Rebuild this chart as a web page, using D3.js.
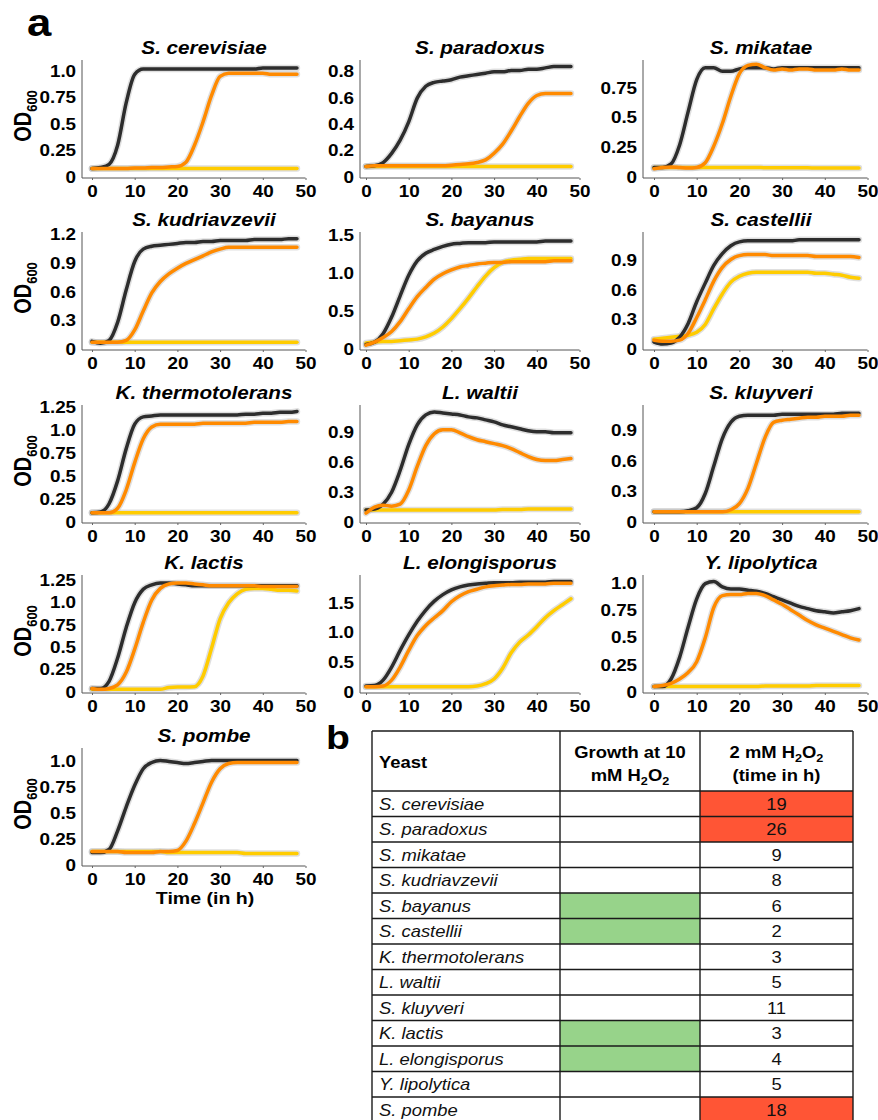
<!DOCTYPE html>
<html>
<head>
<meta charset="utf-8">
<script src="https://cdn.jsdelivr.net/npm/d3@7"></script>
<style>
html, body { margin: 0; padding: 0; background: #fff; }
svg { display: block; }
</style>
</head>
<body>
<svg id="fig" width="878" height="1120"></svg>
<script>
"use strict";

// ---- data ----
const hours = [0, 2, 4, 6, 8, 10, 12, 14, 16, 18, 20, 22, 24, 26, 28, 30, 32, 34, 36, 38, 40, 42, 44, 46, 48];

const species = ["S. cerevisiae", "S. paradoxus", "S. mikatae", "S. kudriavzevii", "S. bayanus", "S. castellii",
    "K. thermotolerans", "L. waltii", "S. kluyveri", "K. lactis", "L. elongisporus", "Y. lipolytica", "S. pombe"];

// upper end of each y axis
const yTop = [1.105, 0.89, 0.985, 1.23, 1.54, 1.19, 1.28, 1.18, 1.15, 1.31, 1.97, 1.08, 1.13];

const yTickLabels = [
    ["0", "0.25", "0.5", "0.75", "1.0"],
    ["0", "0.2", "0.4", "0.6", "0.8"],
    ["0", "0.25", "0.5", "0.75"],
    ["0", "0.3", "0.6", "0.9", "1.2"],
    ["0", "0.5", "1.0", "1.5"],
    ["0", "0.3", "0.6", "0.9"],
    ["0", "0.25", "0.5", "0.75", "1.0", "1.25"],
    ["0", "0.3", "0.6", "0.9"],
    ["0", "0.3", "0.6", "0.9"],
    ["0", "0.25", "0.5", "0.75", "1.0", "1.25"],
    ["0", "0.5", "1.0", "1.5"],
    ["0", "0.25", "0.5", "0.75", "1.0"],
    ["0", "0.25", "0.5", "0.75", "1.0"]
];
const xTickLabels = ["0", "10", "20", "30", "40", "50"];

// OD600, no H2O2 (black)
const odControl = [
    [0.08, 0.09, 0.12, 0.3, 0.7, 0.97, 1.02, 1.02, 1.02, 1.02, 1.02, 1.02, 1.02, 1.02, 1.02, 1.02, 1.02, 1.02, 1.02, 1.02, 1.03, 1.03, 1.03, 1.03, 1.03],
    [0.08, 0.085, 0.11, 0.18, 0.28, 0.42, 0.6, 0.69, 0.72, 0.73, 0.74, 0.76, 0.77, 0.78, 0.79, 0.8, 0.8, 0.81, 0.81, 0.82, 0.82, 0.83, 0.84, 0.84, 0.84],
    [0.08, 0.08, 0.11, 0.27, 0.55, 0.82, 0.92, 0.92, 0.89, 0.89, 0.91, 0.92, 0.92, 0.92, 0.91, 0.92, 0.92, 0.92, 0.92, 0.92, 0.92, 0.92, 0.92, 0.92, 0.92],
    [0.08, 0.06, 0.09, 0.28, 0.62, 0.92, 1.05, 1.08, 1.09, 1.1, 1.11, 1.12, 1.12, 1.13, 1.13, 1.14, 1.14, 1.14, 1.14, 1.15, 1.15, 1.15, 1.15, 1.16, 1.16],
    [0.06, 0.09, 0.2, 0.42, 0.7, 0.97, 1.16, 1.26, 1.31, 1.35, 1.38, 1.39, 1.4, 1.4, 1.4, 1.41, 1.41, 1.41, 1.41, 1.41, 1.41, 1.42, 1.42, 1.42, 1.42],
    [0.07, 0.05, 0.06, 0.12, 0.26, 0.48, 0.67, 0.85, 0.97, 1.05, 1.09, 1.1, 1.1, 1.1, 1.1, 1.1, 1.1, 1.11, 1.11, 1.11, 1.11, 1.11, 1.11, 1.11, 1.11],
    [0.1, 0.11, 0.2, 0.45, 0.8, 1.07, 1.15, 1.16, 1.17, 1.17, 1.17, 1.17, 1.17, 1.17, 1.17, 1.17, 1.17, 1.17, 1.18, 1.18, 1.19, 1.19, 1.2, 1.2, 1.21],
    [0.12, 0.13, 0.18, 0.3, 0.52, 0.78, 0.98, 1.08, 1.11, 1.1, 1.09, 1.08, 1.06, 1.05, 1.03, 1.01, 0.98, 0.96, 0.94, 0.92, 0.91, 0.91, 0.9, 0.9, 0.9],
    [0.1, 0.1, 0.1, 0.1, 0.11, 0.14, 0.28, 0.55, 0.82, 0.98, 1.04, 1.05, 1.05, 1.05, 1.05, 1.06, 1.06, 1.06, 1.06, 1.06, 1.06, 1.06, 1.07, 1.07, 1.07],
    [0.04, 0.04, 0.12, 0.38, 0.72, 1.0, 1.15, 1.2, 1.22, 1.22, 1.21, 1.2, 1.19, 1.19, 1.19, 1.19, 1.19, 1.19, 1.19, 1.19, 1.19, 1.19, 1.19, 1.19, 1.19],
    [0.1, 0.11, 0.2, 0.42, 0.7, 0.96, 1.19, 1.38, 1.53, 1.64, 1.72, 1.77, 1.8, 1.82, 1.83, 1.84, 1.84, 1.84, 1.85, 1.85, 1.85, 1.85, 1.86, 1.86, 1.86],
    [0.05, 0.05, 0.12, 0.32, 0.6, 0.86, 1.0, 1.02, 0.97, 0.95, 0.95, 0.94, 0.93, 0.91, 0.88, 0.85, 0.82, 0.79, 0.77, 0.75, 0.74, 0.73, 0.74, 0.75, 0.77],
    [0.12, 0.12, 0.15, 0.33, 0.56, 0.77, 0.93, 0.99, 1.01, 1.0, 0.99, 0.98, 0.99, 1.0, 1.01, 1.01, 1.01, 1.01, 1.01, 1.01, 1.01, 1.01, 1.01, 1.01, 1.01]
];

// OD600, 2 mM H2O2 (orange)
const od2mM = [
    [0.08, 0.08, 0.08, 0.08, 0.08, 0.085, 0.085, 0.09, 0.09, 0.095, 0.1, 0.14, 0.3, 0.52, 0.77, 0.95, 0.98, 0.98, 0.98, 0.98, 0.98, 0.97, 0.97, 0.97, 0.97],
    [0.08, 0.085, 0.085, 0.085, 0.085, 0.085, 0.085, 0.085, 0.085, 0.085, 0.09, 0.095, 0.1, 0.11, 0.13, 0.18, 0.25, 0.35, 0.46, 0.56, 0.62, 0.635, 0.635, 0.635, 0.635],
    [0.07, 0.08, 0.085, 0.08, 0.075, 0.08, 0.12, 0.26, 0.45, 0.68, 0.87, 0.94, 0.95, 0.92, 0.9, 0.91, 0.9, 0.91, 0.91, 0.9, 0.9, 0.9, 0.91, 0.9, 0.9],
    [0.07, 0.07, 0.07, 0.07, 0.09, 0.2, 0.4, 0.59, 0.71, 0.79, 0.85, 0.9, 0.94, 0.98, 1.02, 1.05, 1.07, 1.07, 1.07, 1.07, 1.07, 1.07, 1.07, 1.07, 1.07],
    [0.05, 0.09, 0.15, 0.23, 0.36, 0.53, 0.69, 0.81, 0.92, 0.99, 1.04, 1.08, 1.1, 1.12, 1.13, 1.14, 1.14, 1.15, 1.15, 1.15, 1.15, 1.15, 1.16, 1.16, 1.16],
    [0.09, 0.08, 0.08, 0.09, 0.16, 0.32, 0.5, 0.69, 0.83, 0.91, 0.95, 0.96, 0.96, 0.96, 0.95, 0.95, 0.95, 0.95, 0.95, 0.94, 0.94, 0.94, 0.94, 0.94, 0.93],
    [0.1, 0.1, 0.1, 0.15, 0.35, 0.65, 0.91, 1.04, 1.07, 1.07, 1.07, 1.07, 1.07, 1.08, 1.08, 1.08, 1.08, 1.08, 1.08, 1.09, 1.09, 1.09, 1.09, 1.1, 1.1],
    [0.09, 0.15, 0.17, 0.16, 0.18, 0.32, 0.56, 0.77, 0.89, 0.93, 0.93, 0.9, 0.86, 0.83, 0.81, 0.79, 0.77, 0.74, 0.7, 0.66, 0.63, 0.62, 0.62, 0.63, 0.64],
    [0.1, 0.1, 0.1, 0.1, 0.1, 0.1, 0.1, 0.1, 0.1, 0.12, 0.18, 0.33, 0.58, 0.83, 0.98, 1.0, 1.01, 1.02, 1.03, 1.03, 1.04, 1.04, 1.04, 1.05, 1.05],
    [0.04, 0.03, 0.04, 0.08, 0.22, 0.48, 0.78, 1.03, 1.16, 1.21, 1.22, 1.22, 1.21, 1.2, 1.19, 1.19, 1.19, 1.19, 1.19, 1.19, 1.18, 1.18, 1.18, 1.18, 1.18],
    [0.09, 0.09, 0.1, 0.2, 0.42, 0.7, 0.95, 1.12, 1.25, 1.37, 1.52, 1.62, 1.69, 1.73, 1.77, 1.79, 1.8, 1.81, 1.81, 1.82, 1.82, 1.82, 1.83, 1.83, 1.83],
    [0.05, 0.06, 0.08, 0.12, 0.18, 0.28, 0.5, 0.78, 0.89, 0.9, 0.9, 0.91, 0.91, 0.89, 0.85, 0.81, 0.76, 0.71, 0.66, 0.62, 0.59, 0.56, 0.53, 0.5, 0.48],
    [0.13, 0.13, 0.13, 0.13, 0.12, 0.12, 0.12, 0.12, 0.13, 0.13, 0.14, 0.23, 0.4, 0.6, 0.8, 0.93, 0.98, 0.99, 0.99, 0.99, 0.99, 0.99, 0.99, 0.99, 0.99]
];

// OD600, 10 mM H2O2 (yellow)
const od10mM = [
    [0.08, 0.08, 0.08, 0.08, 0.08, 0.08, 0.08, 0.08, 0.08, 0.08, 0.08, 0.08, 0.08, 0.08, 0.08, 0.08, 0.08, 0.08, 0.08, 0.08, 0.08, 0.08, 0.08, 0.08, 0.08],
    [0.08, 0.08, 0.08, 0.08, 0.08, 0.08, 0.08, 0.08, 0.08, 0.08, 0.08, 0.08, 0.08, 0.08, 0.08, 0.08, 0.08, 0.08, 0.08, 0.08, 0.08, 0.08, 0.08, 0.08, 0.08],
    [0.08, 0.08, 0.08, 0.08, 0.08, 0.08, 0.08, 0.08, 0.08, 0.08, 0.08, 0.08, 0.08, 0.078, 0.078, 0.078, 0.078, 0.077, 0.077, 0.076, 0.076, 0.075, 0.075, 0.075, 0.075],
    [0.07, 0.07, 0.07, 0.07, 0.07, 0.07, 0.07, 0.07, 0.07, 0.07, 0.07, 0.07, 0.07, 0.07, 0.07, 0.07, 0.07, 0.07, 0.07, 0.07, 0.07, 0.07, 0.07, 0.07, 0.07],
    [0.08, 0.09, 0.1, 0.1, 0.11, 0.12, 0.13, 0.16, 0.21, 0.29, 0.4, 0.53, 0.67, 0.82, 0.96, 1.07, 1.14, 1.17, 1.18, 1.19, 1.19, 1.19, 1.19, 1.19, 1.19],
    [0.1, 0.11, 0.12, 0.13, 0.14, 0.17, 0.25, 0.41, 0.56, 0.68, 0.74, 0.77, 0.78, 0.78, 0.78, 0.78, 0.78, 0.78, 0.78, 0.77, 0.77, 0.76, 0.75, 0.73, 0.72],
    [0.1, 0.1, 0.1, 0.1, 0.1, 0.1, 0.1, 0.1, 0.1, 0.1, 0.1, 0.1, 0.1, 0.1, 0.1, 0.1, 0.1, 0.1, 0.1, 0.1, 0.1, 0.1, 0.1, 0.1, 0.1],
    [0.12, 0.12, 0.12, 0.12, 0.12, 0.12, 0.12, 0.12, 0.12, 0.12, 0.12, 0.12, 0.12, 0.12, 0.12, 0.12, 0.125, 0.125, 0.125, 0.13, 0.13, 0.13, 0.13, 0.13, 0.13],
    [0.1, 0.1, 0.1, 0.1, 0.1, 0.1, 0.1, 0.1, 0.1, 0.1, 0.1, 0.1, 0.1, 0.1, 0.1, 0.1, 0.1, 0.1, 0.1, 0.1, 0.1, 0.1, 0.1, 0.1, 0.1],
    [0.03, 0.03, 0.03, 0.03, 0.03, 0.03, 0.03, 0.03, 0.03, 0.05, 0.055, 0.055, 0.06, 0.18, 0.49, 0.82, 1.0, 1.1, 1.15, 1.16, 1.16, 1.15, 1.14, 1.14, 1.13],
    [0.09, 0.09, 0.09, 0.09, 0.09, 0.09, 0.09, 0.09, 0.09, 0.09, 0.09, 0.09, 0.09, 0.1, 0.14, 0.22, 0.4, 0.66, 0.84, 0.96, 1.1, 1.25, 1.37, 1.47, 1.57],
    [0.05, 0.05, 0.05, 0.05, 0.05, 0.05, 0.05, 0.05, 0.05, 0.05, 0.05, 0.05, 0.05, 0.055, 0.055, 0.055, 0.055, 0.055, 0.055, 0.06, 0.06, 0.06, 0.06, 0.06, 0.06],
    [0.13, 0.13, 0.13, 0.13, 0.13, 0.13, 0.13, 0.13, 0.13, 0.12, 0.12, 0.12, 0.12, 0.12, 0.12, 0.12, 0.12, 0.12, 0.11, 0.11, 0.11, 0.11, 0.11, 0.11, 0.11]
];

// panel b
const growsAt10mM = [0, 0, 0, 0, 1, 1, 0, 0, 0, 1, 1, 0, 0];
const hoursAt2mM = [19, 26, 9, 8, 6, 2, 3, 5, 11, 3, 4, 5, 18];
const slowAt2mM = [1, 1, 0, 0, 0, 0, 0, 0, 0, 0, 0, 0, 1];

// ---- layout ----
const FONT = "'Liberation Sans', Arial, sans-serif";
const SX = 1.15;              // the source figure is a bit stretched sideways
const TICK_SX = 1.18;
const colAxisX = [82, 360, 643];
const colZeroX = [92, 366, 654];
const titleCX = [204, 480, 761];
const rowAxisY = [178, 350, 523, 693, 866];
const plotW = 213.5, plotH = 117;

const colors = { control: "#2d2d2d", mM2: "#ff8a00", mM10: "#ffcc00" };

const svg = d3.select("#fig").attr("font-family", FONT);

function stretched(sel, x, y) {
    sel.attr("transform", `translate(${x},${y}) scale(${SX},1)`);
}

svg.append("text").call(stretched, 27, 36)
    .attr("font-size", 38).attr("font-weight", "bold").text("a");

species.forEach((name, i) => {
    const r = Math.floor(i / 3), c = i % 3;
    const ax = colAxisX[c], base = rowAxisY[r];

    const x = d3.scaleLinear().domain([0, 50]).range([colZeroX[c], colZeroX[c] + plotW]);
    const y = d3.scaleLinear().domain([0, yTop[i]]).range([base - 1, base - 1 - plotH]);
    const g = svg.append("g");

    // y axis
    const tickVals = yTickLabels[i].map(Number);
    const gy = g.append("g")
        .attr("transform", `translate(${ax},0)`)
        .call(d3.axisLeft(y)
            .tickValues(tickVals)
            .tickFormat(d => yTickLabels[i][tickVals.indexOf(d)])
            .tickSize(0).tickPadding(5).tickSizeOuter(0));
    gy.attr("font-family", FONT).attr("font-size", 16).attr("font-weight", "bold");
    gy.select(".domain").attr("stroke", "#555").attr("d", `M0,${base}V${base - 1 - plotH}`);
    gy.selectAll("text").attr("fill", "#000").attr("transform", `scale(${TICK_SX},1)`);

    // x axis
    const gx = g.append("g")
        .attr("transform", `translate(0,${base})`)
        .call(d3.axisBottom(x)
            .tickValues(xTickLabels.map(Number))
            .tickFormat(d => xTickLabels[xTickLabels.indexOf(String(d))])
            .tickSize(2).tickPadding(6).tickSizeOuter(0));
    gx.attr("font-family", FONT).attr("font-size", 16).attr("font-weight", "bold");
    gx.select(".domain").attr("stroke", "#555").attr("d", `M${ax},0H${x(50)}`);
    gx.selectAll(".tick line").attr("stroke", "#666");
    gx.selectAll("text").attr("fill", "#000").attr("transform", `scale(${TICK_SX},1)`);

    // curves: grey confidence halo first, then the coloured line
    const line = d3.line()
        .x((d, k) => x(hours[k]))
        .y(d => y(d))
        .curve(d3.curveMonotoneX);

    const series = [[od10mM[i], colors.mM10], [odControl[i], colors.control], [od2mM[i], colors.mM2]];
    series.forEach(([vals]) => {
        g.append("path").attr("d", line(vals))
            .attr("fill", "none").attr("stroke", "#c4c4c4").attr("stroke-opacity", 0.55)
            .attr("stroke-width", 6.5).attr("stroke-linecap", "round").attr("stroke-linejoin", "round");
    });
    series.forEach(([vals, col]) => {
        g.append("path").attr("d", line(vals))
            .attr("fill", "none").attr("stroke", col)
            .attr("stroke-width", 3.5).attr("stroke-linecap", "round").attr("stroke-linejoin", "round");
    });

    // title
    g.append("text").call(stretched, titleCX[c], base - 124)
        .attr("text-anchor", "middle").attr("font-size", 18)
        .attr("font-weight", "bold").attr("font-style", "italic").text(name);

    // OD600 label on the first column
    if (c === 0) {
        const t = g.append("text")
            .attr("transform", `translate(31,${base - 62}) rotate(-90) scale(1,${SX})`)
            .attr("text-anchor", "middle").attr("font-size", 20).attr("font-weight", "bold");
        t.append("tspan").text("OD");
        t.append("tspan").attr("font-size", 13).attr("dy", 5).text("600");
    }
});

svg.append("text").call(stretched, 205, 904)
    .attr("text-anchor", "middle").attr("font-size", 17).attr("font-weight", "bold")
    .text("Time (in h)");

// ---- table (panel b) ----
svg.append("text").call(stretched, 326, 749)
    .attr("font-size", 34).attr("font-weight", "bold").text("b");

const tblCols = [372, 560, 700, 853];
const headTop = 731, headBottom = 791, rowH = 25.5;
const rowY = d3.scaleLinear().domain([0, species.length]).range([headBottom, headBottom + species.length * rowH]);
const tbl = svg.append("g");

species.forEach((name, k) => {
    const top = rowY(k);
    if (growsAt10mM[k]) {
        tbl.append("rect").attr("x", tblCols[1]).attr("y", top)
            .attr("width", tblCols[2] - tblCols[1]).attr("height", rowH).attr("fill", "#97d38a");
    }
    if (slowAt2mM[k]) {
        tbl.append("rect").attr("x", tblCols[2]).attr("y", top)
            .attr("width", tblCols[3] - tblCols[2]).attr("height", rowH).attr("fill", "#ff5535");
    }
    tbl.append("text").call(stretched, tblCols[0] + 7, top + 18.5)
        .attr("font-size", 16).attr("font-style", "italic").attr("fill", "#111").text(name);
    tbl.append("text").call(stretched, (tblCols[2] + tblCols[3]) / 2, top + 18.5)
        .attr("text-anchor", "middle").attr("font-size", 16).attr("fill", "#111").text(hoursAt2mM[k]);
});

// header
tbl.append("text").call(stretched, tblCols[0] + 7, 768)
    .attr("font-size", 16).attr("font-weight", "bold").text("Yeast");

function headerCell(cx, first, second) {
    tbl.append("text").call(stretched, cx, 758)
        .attr("text-anchor", "middle").attr("font-size", 16).attr("font-weight", "bold").text(first);
    tbl.append("text").call(stretched, cx, 781)
        .attr("text-anchor", "middle").attr("font-size", 16).attr("font-weight", "bold").text(second);
}
function addH2O2(t) {
    t.append("tspan").text("H");
    t.append("tspan").attr("font-size", 11).attr("dy", 4).text("2");
    t.append("tspan").attr("dy", -4).text("O");
    t.append("tspan").attr("font-size", 11).attr("dy", 4).text("2");
}

headerCell((tblCols[1] + tblCols[2]) / 2, "Growth at 10", "mM ");
addH2O2(tbl.selectAll("text").filter(function () { return this.textContent === "mM "; }));

headerCell((tblCols[2] + tblCols[3]) / 2, "2 mM ", "(time in h)");
addH2O2(tbl.selectAll("text").filter(function () { return this.textContent === "2 mM "; }));

// grid lines
const tableBottom = rowY(species.length);
const hLines = [headTop, headBottom].concat(d3.range(1, species.length + 1).map(k => rowY(k)));
tbl.selectAll("line.h").data(hLines).join("line").attr("class", "h")
    .attr("x1", tblCols[0]).attr("x2", tblCols[3]).attr("y1", d => d).attr("y2", d => d)
    .attr("stroke", "#1a1a1a").attr("stroke-width", 1.4);
tbl.selectAll("line.v").data(tblCols).join("line").attr("class", "v")
    .attr("x1", d => d).attr("x2", d => d).attr("y1", headTop).attr("y2", tableBottom)
    .attr("stroke", "#1a1a1a").attr("stroke-width", 1.4);
</script>
</body>
</html>
